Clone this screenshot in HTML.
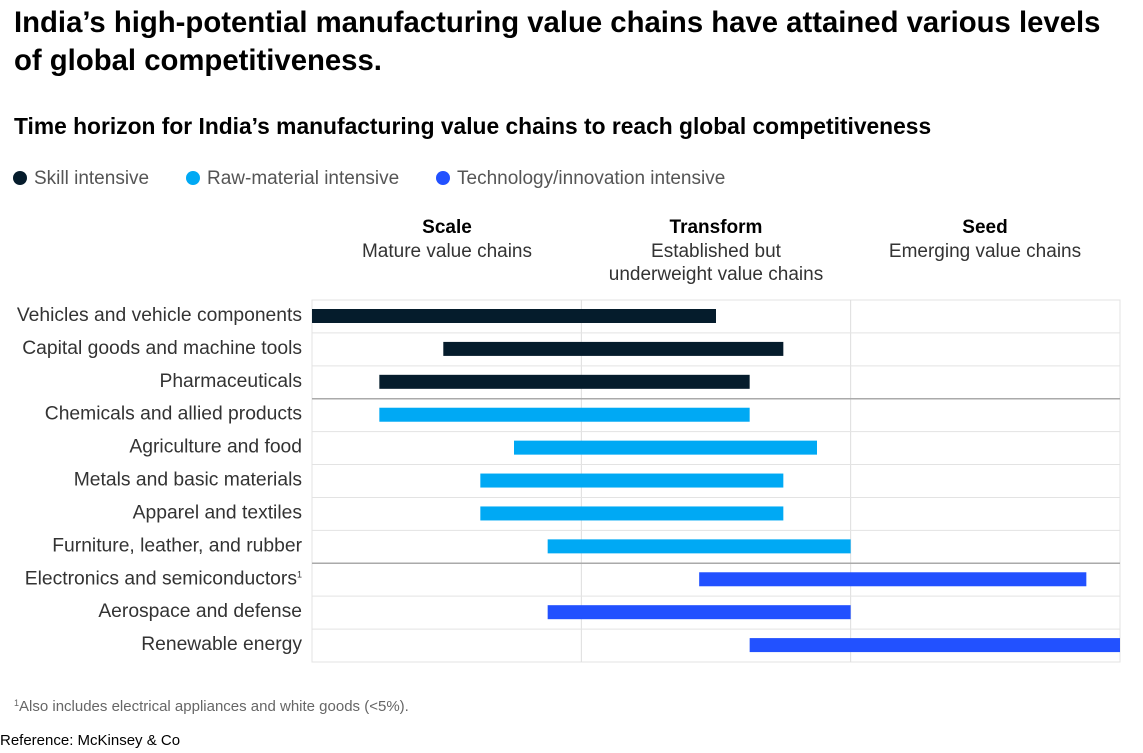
<!DOCTYPE html>
<html><head><meta charset="utf-8"><style>
body{margin:0;background:#fff;width:1143px;height:748px;overflow:hidden;font-family:"Liberation Sans",sans-serif}
</style></head><body>
<svg width="1143" height="748" font-family="Liberation Sans, sans-serif">
<text x="14" y="32" font-size="29.3" font-weight="bold" fill="#000">India’s high-potential manufacturing value chains have attained various levels</text>
<text x="14" y="70" font-size="29.3" font-weight="bold" fill="#000">of global competitiveness.</text>
<text x="14" y="134" font-size="22.8" font-weight="bold" fill="#000">Time horizon for India’s manufacturing value chains to reach global competitiveness</text>
<g font-size="19" fill="#555">
<circle cx="20" cy="178" r="7" fill="#051c2c"/><text x="34" y="184">Skill intensive</text>
<circle cx="193" cy="178" r="7" fill="#00a9f4"/><text x="207" y="184">Raw-material intensive</text>
<circle cx="443" cy="178" r="7" fill="#2251ff"/><text x="457" y="184">Technology/innovation intensive</text>
</g>
<g font-size="19" fill="#333" text-anchor="middle">
<text x="447" y="233" font-weight="bold" fill="#000">Scale</text><text x="447" y="257">Mature value chains</text>
<text x="716" y="233" font-weight="bold" fill="#000">Transform</text><text x="716" y="257">Established but</text><text x="716" y="280">underweight value chains</text>
<text x="985" y="233" font-weight="bold" fill="#000">Seed</text><text x="985" y="257">Emerging value chains</text>
</g>
<g id="plot"></g>
<text x="14" y="711" font-size="15" fill="#666"><tspan font-size="9" dy="-5">1</tspan><tspan dy="5">Also includes electrical appliances and white goods (&lt;5%).</tspan></text>
<text x="0" y="745" font-size="15" fill="#000">Reference: McKinsey &amp; Co</text>
</svg>
<script>
const categories=["Vehicles and vehicle components","Capital goods and machine tools","Pharmaceuticals","Chemicals and allied products","Agriculture and food","Metals and basic materials","Apparel and textiles","Furniture, leather, and rubber","Electronics and semiconductors","Aerospace and defense","Renewable energy"];
const startValues=[0,3.9,2,2,6,5,5,7,11.5,7,13];
const endValues=[12,14,13,13,15,14,14,16,23,16,24];
const groups=[0,0,0,1,1,1,1,1,2,2,2];
const colors=["#051c2c","#00a9f4","#2251ff"];
const NS="http://www.w3.org/2000/svg",g=document.getElementById('plot');
const x0=312,x1=1120,y0=300,rh=(662-300)/categories.length;
const xs=v=>x0+v/24*(x1-x0);
function mk(t,a){const e=document.createElementNS(NS,t);for(const k in a)e.setAttribute(k,a[k]);g.appendChild(e);return e;}
mk('rect',{x:x0,y:y0,width:x1-x0,height:662-y0,fill:'none',stroke:'#e3e3e3'});
[8,16].forEach(v=>{const l=mk('line',{x1:xs(v),x2:xs(v),y1:y0,y2:662,stroke:'#ddd'});});
categories.forEach((c,i)=>{
 const y=y0+i*rh;
 if(i>0){const sep=groups[i]!==groups[i-1];const l=mk('line',{x1:x0,x2:x1,y1:y,y2:y,stroke:sep?'#aaa':'#e3e3e3','stroke-width':sep?1.5:1});}
 const t=mk('text',{x:302,y:y+21,'text-anchor':'end','font-size':19.3,fill:'#333'});
 t.textContent=c;
 if(i===8){const s=document.createElementNS(NS,'tspan');s.setAttribute('font-size','9');s.setAttribute('dy','-7');s.textContent='1';t.appendChild(s);}
 
 const b=mk('rect',{x:xs(startValues[i]),y:y+9,width:xs(endValues[i])-xs(startValues[i]),height:14,fill:colors[groups[i]]});
 
});
</script>
</body></html>
